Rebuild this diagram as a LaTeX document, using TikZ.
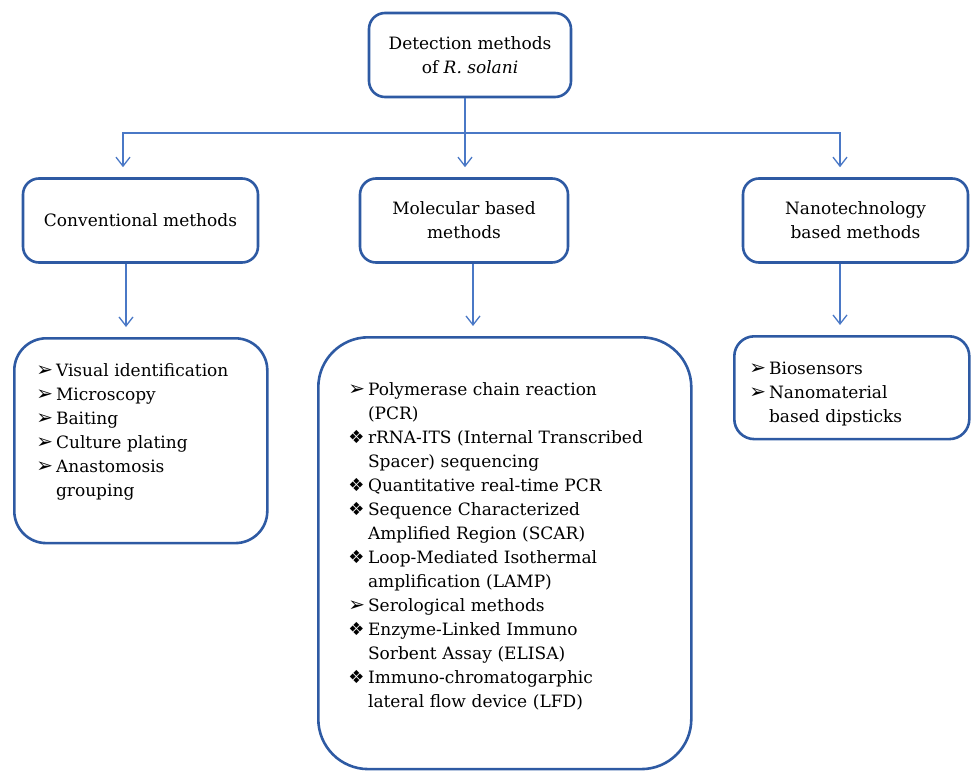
\documentclass[tikz,border=0pt]{standalone}
\usepackage{fontspec}
\setmainfont{DejaVu Serif}
\newfontfamily\symfont{DejaVu Sans}
\usetikzlibrary{arrows.meta, calc}
\definecolor{FrameBlue}{HTML}{2E5AA3}
\definecolor{LinkBlue}{HTML}{4A78C6}
\newcommand{\arrbul}{{\symfont\fontsize{20}{24}\selectfont ➢}}
\newcommand{\diabul}{{\symfont\fontsize{18}{24}\selectfont ❖}}
\tikzset{
  headbox/.style={draw=FrameBlue, line width=2.6pt, rounded corners=16pt, align=center,
    minimum height=84pt, inner sep=4pt, font=\fontsize{17}{24}\selectfont},
  listbox/.style={draw=FrameBlue, line width=2.6pt, anchor=north west, align=left,
    font=\fontsize{17}{24}\selectfont},
  link/.style={-{Straight Barb[length=9pt, width=14pt]}, draw=LinkBlue, line width=1.3pt,
    shorten >=10pt},
}

\begin{document}
\begin{tikzpicture}[x=1pt, y=-1pt]
    \useasboundingbox (0,0) rectangle (971,771);
    \node[headbox, minimum width=202pt] (top) at (470,55) {Detection methods\\of \textit{R. solani}};
    \node[headbox, minimum width=235pt] (conv) at (140.5,220.5) {Conventional methods};
    \node[headbox, minimum width=208pt] (mol) at (464,220.5) {Molecular based\\methods};
    \node[headbox, minimum width=225pt] (nano) at (855.5,220.5) {Nanotechnology\\based methods};
    % method lists
    \node[listbox, rounded corners=32pt, text width=209pt, inner xsep=22pt, inner ysep=21pt,
      text depth=146pt] (convlist) at (13,337) {%
      \begin{tabular}[t]{@{}l@{\hspace{3pt}}l@{}}
        \arrbul & Visual identification\\
        \arrbul & Microscopy\\
        \arrbul & Baiting\\
        \arrbul & Culture plating\\
        \arrbul & Anastomosis\\
                & grouping
      \end{tabular}};
    \node[listbox, rounded corners=50pt, text width=313pt, inner xsep=30pt, inner ysep=41pt,
      text depth=333pt] (mollist) at (317,336) {%
      \begin{tabular}[t]{@{}l@{\hspace{3pt}}l@{}}
        \arrbul & Polymerase chain reaction\\
                & (PCR)\\
        \diabul & rRNA-ITS (Internal Transcribed\\
                & Spacer) sequencing\\
        \diabul & Quantitative real-time PCR\\
        \diabul & Sequence Characterized\\
                & Amplified Region (SCAR)\\
        \diabul & Loop-Mediated Isothermal\\
                & amplification (LAMP)\\
        \arrbul & Serological methods\\
        \diabul & Enzyme-Linked Immuno\\
                & Sorbent Assay (ELISA)\\
        \diabul & Immuno-chromatogarphic\\
                & lateral flow device (LFD)
      \end{tabular}};
    \node[listbox, rounded corners=20pt, text width=205pt, inner xsep=15pt, inner ysep=21pt,
      text depth=44pt] (nanolist) at (733,335) {%
      \begin{tabular}[t]{@{}l@{\hspace{3pt}}l@{}}
        \arrbul & Biosensors\\
        \arrbul & Nanomaterial\\
                & based dipsticks
      \end{tabular}};
    % connectors
    \coordinate (hub) at (465,133);
    \draw[draw=LinkBlue, line width=1.3pt] ([xshift=-5pt]top.south) -- (hub);
    \draw[link] (hub) -- ([xshift=1pt]mol.north);
    \draw[link] (hub) -| ([xshift=-17.5pt]conv.north);
    \draw[link] (hub) -| ([xshift=-15.5pt]nano.north);
    \draw[link] ($(conv.south)+(-14.5,0)$) -- ($(conv.south |- convlist.north)+(-14.5,0)$);
    \draw[link] ($(mol.south)+(9,0)$) -- ($(mol.south |- mollist.north)+(9,0)$);
    \draw[link] ($(nano.south)+(-15.5,0)$) -- ($(nano.south |- nanolist.north)+(-15.5,0)$);
\end{tikzpicture}
\end{document}
